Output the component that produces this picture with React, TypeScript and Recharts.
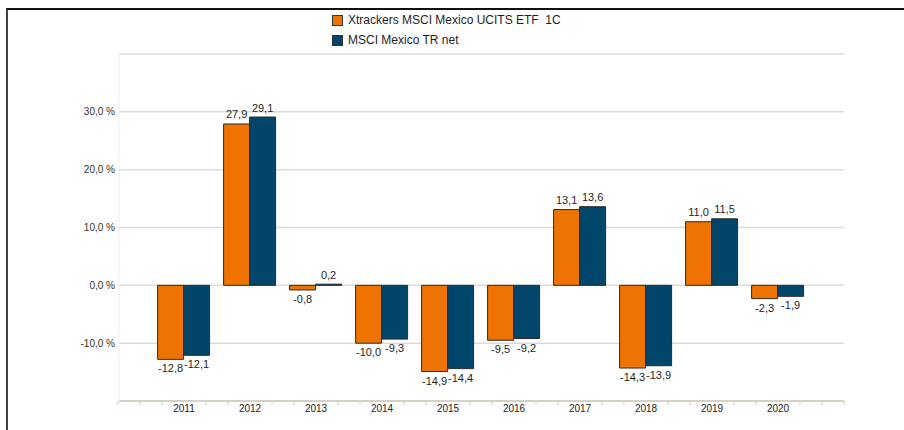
import React from "react";
import { BarChart, Bar, XAxis, YAxis, CartesianGrid, Legend, LabelList } from "recharts";

const categories = ["2011", "2012", "2013", "2014", "2015", "2016", "2017", "2018", "2019", "2020"];
const etfValues = [-12.8, 27.9, -0.8, -10.0, -14.9, -9.5, 13.1, -14.3, 11.0, -2.3];
const indexValues = [-12.1, 29.1, 0.2, -9.3, -14.4, -9.2, 13.6, -13.9, 11.5, -1.9];
const yTicks = [-20, -10, 0, 10, 20, 30, 40];
const seriesNames = ["Xtrackers MSCI Mexico UCITS ETF  1C", "MSCI Mexico TR net"];

const ORANGE = "#ef7300";
const BLUE = "#00466a";
const FONT = "'Liberation Sans', Arial, Helvetica, sans-serif";

const data = categories.map((c, i) => ({ year: c, etf: etfValues[i], idx: indexValues[i] }));

const fmt = (v: number) => v.toFixed(1).replace(".", ",");

const BarValueLabel = (props: any) => {
  const { x, y, width, height, value } = props;
  if (value === undefined || value === null) return null;
  const top = Math.min(y, y + height);
  const bottom = Math.max(y, y + height);
  const cx = x + width / 2;
  const ty = value >= 0 ? top - 5.5 : bottom + 13;
  return (
    <text x={cx} y={ty} textAnchor="middle" fontSize={11} fontFamily={FONT} fill="#1e1e1e">
      {fmt(value)}
    </text>
  );
};

const XTick = (props: any) => {
  const { x, y, payload } = props;
  const idx = props.index ?? payload?.index ?? 0;
  const offsets = [-22, 22];
  if (idx === 0) offsets.push(-44, -66);
  if (idx === categories.length - 1) offsets.push(44, 66);
  return (
    <g>
      {offsets.map((o) => (
        <line key={o} x1={x + o} x2={x + o} y1={y} y2={y + 4} stroke="#d6d1c4" strokeWidth={1.2} />
      ))}
      <text x={x} y={y + 11} textAnchor="middle" fontSize={10} fontFamily={FONT} fill="#222">
        {payload.value}
      </text>
    </g>
  );
};

const LegendContent = () => {
  const colors = [ORANGE, BLUE];
  return (
    <div style={{ fontFamily: FONT, fontSize: 12, color: "#1e1e1e" }}>
      {seriesNames.map((n, i) => (
        <div key={n} style={{ display: "flex", alignItems: "center", height: 20 }}>
          <span
            style={{
              display: "inline-block",
              width: 9,
              height: 9,
              background: colors[i],
              border: "1px solid #333",
              marginRight: 5,
            }}
          />
          <span style={{ whiteSpace: "pre" }}>{n}</span>
        </div>
      ))}
    </div>
  );
};

export default function App() {
  return (
    <div style={{ position: "absolute", left: 0, top: 0, width: 904, height: 430, background: "#fff", overflow: "hidden" }}>
      <div
        style={{
          position: "absolute",
          left: 6,
          top: 8,
          width: 904,
          height: 430,
          borderTop: "2px solid #111",
          borderLeft: "2px solid #444",
          boxSizing: "border-box",
        }}
      />
      <div style={{ position: "absolute", left: 0, top: 0 }}>
        <BarChart
          width={904}
          height={430}
          data={data}
          margin={{ top: 54, right: 60, bottom: 9, left: 59 }}
          barCategoryGap="10%"
          barGap={0}
        >
          <CartesianGrid horizontal vertical={false} stroke="#dedbd3" strokeWidth={1.5} />
          <XAxis
            dataKey="year"
            height={20}
            padding={{ left: 32, right: 33 }}
            interval={0}
            tickLine={false}
            tickSize={0}
            tickMargin={0}
            axisLine={{ stroke: "#d6d1c4", strokeWidth: 2 }}
            tick={<XTick />}
          />
          <YAxis
            width={60}
            domain={[-20, 40]}
            ticks={yTicks}
            interval={0}
            tickLine={false}
            tickSize={0}
            tickMargin={4}
            axisLine={{ stroke: "#efefef" }}
            tick={{ fontSize: 10, fontFamily: FONT, fill: "#333" }}
            tickFormatter={(v: number) => (v === 40 || v === -20 ? "" : fmt(v) + " %")}
          />
          <Legend
            layout="vertical"
            align="center"
            verticalAlign="middle"
            wrapperStyle={{ top: 10, left: 332, width: 300 }}
            content={<LegendContent />}
          />
          <Bar dataKey="etf" name={seriesNames[0]} fill={ORANGE} stroke="#2b2b2b" strokeWidth={1} isAnimationActive={false}>
            <LabelList dataKey="etf" content={<BarValueLabel />} />
          </Bar>
          <Bar dataKey="idx" name={seriesNames[1]} fill={BLUE} stroke="#2b2b2b" strokeWidth={1} isAnimationActive={false}>
            <LabelList dataKey="idx" content={<BarValueLabel />} />
          </Bar>
        </BarChart>
      </div>
    </div>
  );
}
